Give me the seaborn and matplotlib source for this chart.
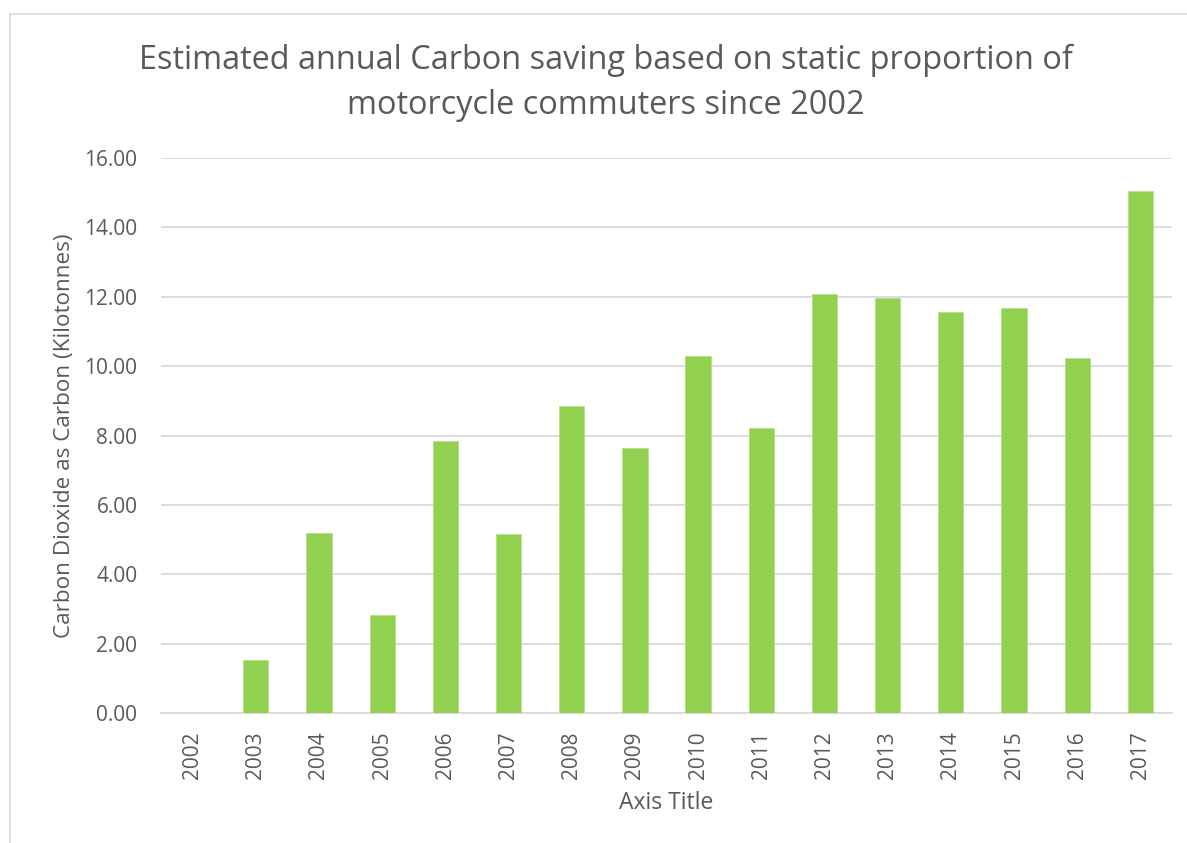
import matplotlib
matplotlib.use("Agg")
import matplotlib.pyplot as plt
import seaborn as sns
import pandas as pd
from matplotlib.patches import Rectangle

years = ["2002", "2003", "2004", "2005", "2006", "2007", "2008", "2009",
         "2010", "2011", "2012", "2013", "2014", "2015", "2016", "2017"]
carbon_kt = [0.00, 1.53, 5.18, 2.82, 7.83, 5.16, 8.86, 7.63,
             10.30, 8.23, 12.09, 11.97, 11.57, 11.68, 10.22, 15.05]
y_ticks = [0, 2, 4, 6, 8, 10, 12, 14, 16]

title_text = ("Estimated annual Carbon saving based on static proportion of\n"
              "motorcycle commuters since 2002")
y_label = "Carbon Dioxide as Carbon (Kilotonnes)"
x_label = "Axis Title"

sns.set_theme(style="white")
plt.rcParams["font.family"] = ["Open Sans", "DejaVu Sans"]

TEXT = "#595959"
GRID = "#D9D9D9"
BAR = "#92D050"

df = pd.DataFrame({"year": years, "carbon": carbon_kt})

W, H = 1187, 843
fig = plt.figure(figsize=(W / 100, H / 100), dpi=100)
ax = fig.add_axes([161 / W, 1 - 713 / H, (1172 - 161) / W, (713 - 158) / H])

# outer chart frame
fig.patches.append(Rectangle((10 / W, -0.1), 1.2, 1 - 14 / H + 0.1,
                             transform=fig.transFigure, fill=False,
                             edgecolor=GRID, linewidth=1.2, zorder=0))

sns.barplot(data=df, x="year", y="carbon", color=BAR, width=0.4,
            saturation=1, edgecolor="#B5E08A", linewidth=0.6, ax=ax, zorder=3)

ax.set_ylim(0, 16)
ax.set_xlim(-0.5, len(years) - 0.5)
ax.set_yticks(y_ticks)
ax.set_yticklabels([f"{v:.2f}" for v in y_ticks])
ax.yaxis.grid(True, color=GRID, linewidth=1.3, zorder=0)
ax.set_axisbelow(True)
for s in ["top", "right", "left"]:
    ax.spines[s].set_visible(False)
ax.spines["bottom"].set_color(GRID)
ax.spines["bottom"].set_linewidth(1.3)
ax.tick_params(axis="both", length=0, labelsize=15, colors=TEXT)
ax.tick_params(axis="x", rotation=90, pad=13)
ax.tick_params(axis="y", pad=17)

ax.set_xlabel(x_label, fontsize=16.5, color=TEXT, labelpad=9)
ax.set_ylabel(y_label, fontsize=16.2, color=TEXT, labelpad=7)

fig.text(606 / W, 1 - 83 / H, title_text, ha="center", va="center",
         fontsize=23.4, color=TEXT, linespacing=1.5)

fig.savefig("out.png", dpi=100)
